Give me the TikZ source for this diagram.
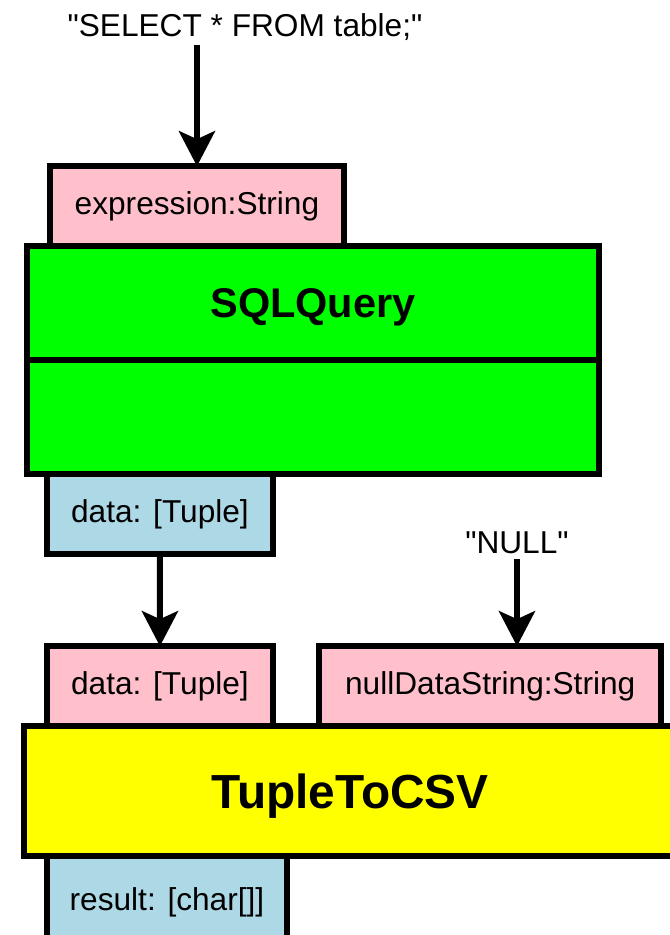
\documentclass[tikz,border=0pt]{standalone}
\usepackage{fontspec}
\setmainfont{Liberation Sans}[Ligatures=TeXOff]
\usetikzlibrary{positioning, arrows.meta}
\definecolor{portpink}{RGB}{255,192,203}
\definecolor{portblue}{RGB}{173,216,230}
\definecolor{sqlgreen}{RGB}{0,255,0}
\definecolor{csvyellow}{RGB}{255,255,0}

\begin{document}
\begin{tikzpicture}[x=0.025cm, y=-0.025cm, node distance=0pt]
    \tikzstyle{port} = [draw, rectangle, line width=4.25pt, outer sep=0pt, minimum height=2cm, font=\fontsize{22.5}{27}\selectfont]
    \tikzstyle{inport} = [port, fill=portpink]
    \tikzstyle{outport} = [port, fill=portblue]
    \tikzstyle{component} = [draw, rectangle, line width=4.25pt, outer sep=0pt, text depth=0pt]
    \tikzstyle{literal} = [font=\fontsize{22.5}{27}\selectfont]
    \tikzstyle{flow} = [line width=4.25pt, -{Stealth[length=0.875cm, width=0.9cm, inset=0.2cm]}]

    \useasboundingbox (0,0) rectangle (670,935);

    \node[component, fill=sqlgreen, minimum width=14.3cm, minimum height=2.84cm, font=\bfseries\fontsize{29.5}{35}\selectfont] (sql) at (313,303) {SQLQuery};
    \node[component, fill=sqlgreen, minimum width=14.3cm, minimum height=2.85cm, below=of sql] (sqlbody) {};
    \node[inport, minimum width=7.36cm, above right=0pt and 0.57cm of sql.north west] (expr) {expression:String};
    \node[outport, minimum width=5.65cm, below right=0pt and 0.5cm of sqlbody.south west] (sqlout) {data: [Tuple]};

    \node[component, fill=csvyellow, minimum width=16.3cm, minimum height=3.24cm, font=\bfseries\fontsize{34}{40}\selectfont] (csv) at (350,791) {TupleToCSV};
    \node[inport, minimum width=5.65cm, above right=0pt and 0.575cm of csv.north west] (csvin) {data: [Tuple]};
    \node[inport, minimum width=8.56cm, right=1.15cm of csvin] (nullin) {nullDataString:String};
    \node[outport, minimum width=6cm, minimum height=2.3cm, below right=0pt and 0.575cm of csv.south west] (csvout) {result: [char[]]};

    \node[literal] (query) at (245,27) {"SELECT * FROM table;"};
    \node[literal] (nullval) at (517,543) {"NULL"};

    \draw[flow] (expr.north |- query.south) -- (expr.north);
    \draw[flow] (sqlout) -- (csvin);
    \draw[flow] (nullval) -- (nullval |- nullin.north);
\end{tikzpicture}
\end{document}
